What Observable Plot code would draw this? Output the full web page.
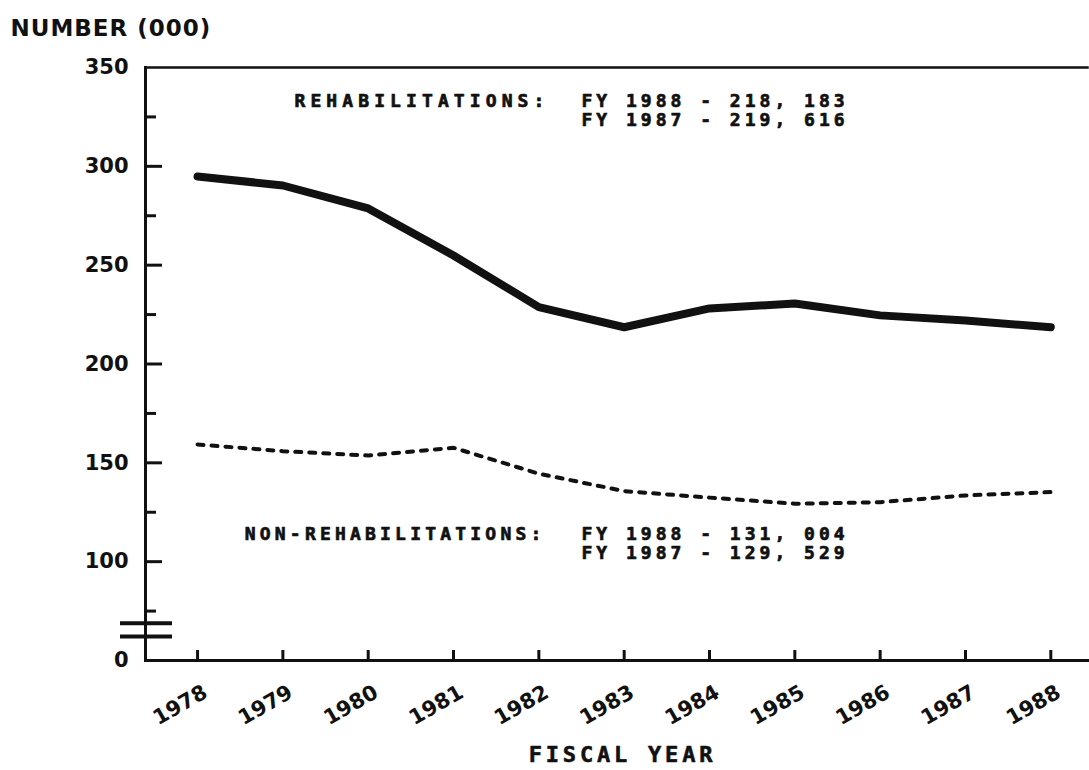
<!DOCTYPE html>
<html>
<head>
<meta charset="utf-8">
<script src="https://cdn.jsdelivr.net/npm/d3@7"></script>
<script src="https://cdn.jsdelivr.net/npm/@observablehq/plot@0.6"></script>
<style>
  html, body { margin: 0; padding: 0; background: #fff; }
  #chart svg { display: block; background: #fff; }
</style>
</head>
<body>
<div id="chart"></div>
<script>
// ---- data (thousands) ----
const years = [1978, 1979, 1980, 1981, 1982, 1983, 1984, 1985, 1986, 1987, 1988];
const rehab = [294.9, 290.3, 278.7, 254.9, 228.8, 218.6, 228.1, 230.6, 224.6, 222.0, 218.6];
const nonRehab = [159.3, 155.9, 153.7, 157.6, 144.5, 135.7, 132.4, 129.3, 130.1, 133.5, 135.2];

// y axis (axis is broken: the bottom "0" sits where 50 would be)
const yTickValues = [50, 100, 150, 200, 250, 300, 350];
const yTickLabels = ["0", "100", "150", "200", "250", "300", "350"];
const yMinorTicks = [75, 125, 175, 225, 275, 325];
const axisBreak = [62.2, 68.8];

const titleText = "NUMBER (000)";
const xTitle = "FISCAL YEAR";
const rehabLabel = "REHABILITATIONS:";
const rehabNotes = ["FY 1988 - 218, 183", "FY 1987 - 219, 616"];
const nonRehabLabel = "NON-REHABILITATIONS:";
const nonRehabNotes = ["FY 1988 - 131, 004", "FY 1987 - 129, 529"];

const rehabData = years.map((y, i) => ({year: y, value: rehab[i]}));
const nonRehabData = years.map((y, i) => ({year: y, value: nonRehab[i]}));

const ink = "#111";
const sans = "DejaVu Sans, Liberation Sans, sans-serif";
const mono = "DejaVu Sans Mono, Liberation Mono, monospace";
const blank = () => "";

const note = (txt, dx, dy, anchor) => Plot.text([txt], {frameAnchor: "top-left", dx, dy,
  textAnchor: anchor, lineAnchor: "middle", fontSize: 18, fontWeight: "bold", fontFamily: mono,
  fill: ink, stroke: ink, strokeWidth: 0.7});

const chart = Plot.plot({
  width: 1089,
  height: 770,
  marginLeft: 145,
  marginRight: 2,
  marginTop: 67,
  marginBottom: 110,
  style: {background: "#fff", color: ink, overflow: "visible"},
  x: {domain: [1977.39, 1988.43], axis: null},
  y: {domain: [50, 350], axis: null},
  marks: [
    // frame lines
    Plot.frame({anchor: "left", stroke: ink, strokeWidth: 3}),
    Plot.frame({anchor: "bottom", stroke: ink, strokeWidth: 3}),
    Plot.frame({anchor: "top", stroke: ink, strokeWidth: 2.5}),
    // y axis: labels + inward ticks
    Plot.axisY({ticks: yTickValues, tickSize: 0, tickPadding: 17,
      tickFormat: d => yTickLabels[yTickValues.indexOf(d)],
      fontSize: 21, fontWeight: "bold", fontFamily: sans, label: null}),
    Plot.axisY({ticks: yTickValues.slice(1, -1), tickSize: -17, tickFormat: blank,
      strokeWidth: 3, stroke: ink, label: null}),
    Plot.axisY({ticks: yMinorTicks, tickSize: -11, tickFormat: blank,
      strokeWidth: 3, stroke: ink, label: null}),
    // axis break marks
    Plot.axisY({ticks: axisBreak, tickSize: 52, dx: 27, tickFormat: blank,
      strokeWidth: 4, stroke: ink, label: null}),
    // x axis: inward ticks + rotated labels
    Plot.axisX({ticks: years, tickSize: -10, tickFormat: blank,
      strokeWidth: 3, stroke: ink, label: null}),
    Plot.axisX({ticks: years, tickSize: 0, tickPadding: 30, dx: 8, tickRotate: -30,
      tickFormat: d => String(d),
      fontSize: 21, fontWeight: "bold", fontFamily: sans, label: null}),
    // data lines
    Plot.line(rehabData, {x: "year", y: "value", stroke: ink, strokeWidth: 8}),
    Plot.line(nonRehabData, {x: "year", y: "value", stroke: ink, strokeWidth: 4,
      strokeDasharray: "6,8", strokeLinecap: "round"}),
    // titles
    Plot.text([titleText], {frameAnchor: "top-left", dx: -135, dy: -39,
      textAnchor: "start", lineAnchor: "middle", fontSize: 23, fontWeight: "bold", fontFamily: sans, fill: ink}),
    Plot.text([xTitle], {frameAnchor: "bottom", dx: 6, dy: 94,
      lineAnchor: "middle", fontSize: 22, fontWeight: "bold", fontFamily: mono,
      fill: ink, stroke: ink, strokeWidth: 0.6}),
    // annotations
    note(rehabLabel, 404, 34, "end"),
    note(rehabNotes[0], 436, 34, "start"),
    note(rehabNotes[1], 436, 53, "start"),
    note(nonRehabLabel, 400, 467, "end"),
    note(nonRehabNotes[0], 436, 467, "start"),
    note(nonRehabNotes[1], 436, 486, "start")
  ]
});

document.getElementById("chart").appendChild(chart);

// letter spacing of the plotter-style lettering
const spacing = new Map([
  [titleText, 1], [xTitle, 3.8], [rehabLabel, 5.1], [nonRehabLabel, 4.2],
  [rehabNotes[0], 4], [rehabNotes[1], 4], [nonRehabNotes[0], 4], [nonRehabNotes[1], 4]
]);
d3.select(chart).selectAll("text").each(function () {
  const s = spacing.get(this.textContent);
  if (s != null) this.setAttribute("letter-spacing", s);
});
</script>
</body>
</html>
